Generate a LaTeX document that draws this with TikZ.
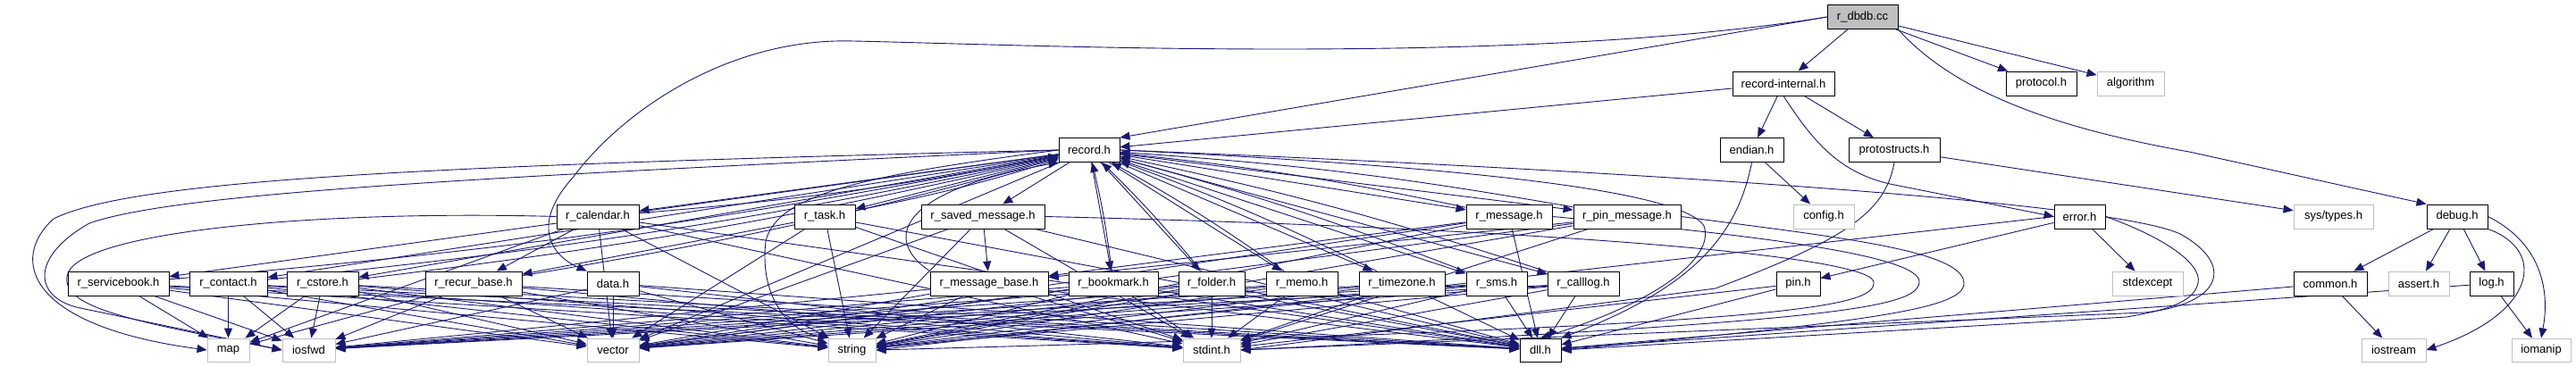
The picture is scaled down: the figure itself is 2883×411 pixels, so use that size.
\documentclass[tikz,border=0pt]{standalone}
\usepackage{fontspec}
\setmainfont{Liberation Sans}
\usepackage{xcolor}
\usepackage{tikz}
\usetikzlibrary{arrows.meta}
\definecolor{edgeblue}{HTML}{191970}
\definecolor{boxgrey}{HTML}{BFBFBF}
\pgfdeclarelayer{edges}
\pgfsetlayers{edges,main}
\tikzset{
  hdr/.style={draw=black, fill=white, line width=0.9pt, inner sep=0pt, minimum height=27pt, font=\fontsize{13}{15}\selectfont},
  syshdr/.style={hdr, draw=boxgrey},
  roothdr/.style={hdr, fill=boxgrey},
  dep/.style={draw=edgeblue, line width=0.9pt, -{Triangle[length=11pt, width=9pt]}},
}

\begin{document}
\begin{tikzpicture}[x=1pt, y=-1pt]
    \useasboundingbox (0,0) rectangle (2883,411);

    % top rows
    \node[roothdr, minimum width=79pt] (dbdb) at (2084.5,19) {r\_dbdb.cc};
    \node[hdr, minimum width=114pt] (recint) at (1996,93.5) {record-internal.h};
    \node[hdr, minimum width=79pt] (protocol) at (2284.5,93.5) {protocol.h};
    \node[syshdr, minimum width=75pt] (algorithm) at (2384.5,93.5) {algorithm};
    \node[hdr, minimum width=68pt] (record) at (1219,168) {record.h};
    \node[hdr, minimum width=71pt] (endian) at (1960.5,168) {endian.h};
    \node[hdr, minimum width=102pt] (protostructs) at (2120,168) {protostructs.h};

    % third row
    \node[hdr, minimum width=92pt] (calendar) at (669,242.5) {r\_calendar.h};
    \node[hdr, minimum width=68pt] (task) at (923,242.5) {r\_task.h};
    \node[hdr, minimum width=138pt] (savedmsg) at (1100,242.5) {r\_saved\_message.h};
    \node[hdr, minimum width=96pt] (message) at (1689,242.5) {r\_message.h};
    \node[hdr, minimum width=120pt] (pinmsg) at (1821,242.5) {r\_pin\_message.h};
    \node[syshdr, minimum width=68pt] (config) at (2041,242.5) {config.h};
    \node[hdr, minimum width=57pt] (error) at (2327.5,242.5) {error.h};
    \node[syshdr, minimum width=89pt] (systypes) at (2611.5,242.5) {sys/types.h};
    \node[hdr, minimum width=68pt] (debug) at (2750,242.5) {debug.h};

    % fourth row
    \node[hdr, minimum width=113pt] (servicebook) at (132.5,317.5) {r\_servicebook.h};
    \node[hdr, minimum width=87pt] (contact) at (255.5,317.5) {r\_contact.h};
    \node[hdr, minimum width=80pt] (cstore) at (361,317.5) {r\_cstore.h};
    \node[hdr, minimum width=108pt] (recurbase) at (530,317.5) {r\_recur\_base.h};
    \node[hdr, minimum width=58pt] (data) at (686,317.5) {data.h};
    \node[hdr, minimum width=132pt] (msgbase) at (1107,317.5) {r\_message\_base.h};
    \node[hdr, minimum width=100pt] (bookmark) at (1246,317.5) {r\_bookmark.h};
    \node[hdr, minimum width=74pt] (folder) at (1356,317.5) {r\_folder.h};
    \node[hdr, minimum width=80pt] (memo) at (1457,317.5) {r\_memo.h};
    \node[hdr, minimum width=96pt] (timezone) at (1569,317.5) {r\_timezone.h};
    \node[hdr, minimum width=68pt] (sms) at (1675,317.5) {r\_sms.h};
    \node[hdr, minimum width=80pt] (calllog) at (1772,317.5) {r\_calllog.h};
    \node[hdr, minimum width=49pt] (pin) at (2012.5,317.5) {pin.h};
    \node[syshdr, minimum width=79pt] (stdexcept) at (2403.5,317.5) {stdexcept};
    \node[hdr, minimum width=82pt] (common) at (2608,317.5) {common.h};
    \node[syshdr, minimum width=68pt] (assert) at (2707,317.5) {assert.h};
    \node[hdr, minimum width=49pt] (log) at (2788.5,317.5) {log.h};

    % bottom row
    \node[syshdr, minimum width=47pt, minimum height=26pt] (map) at (255.5,392) {map};
    \node[syshdr, minimum width=59pt, minimum height=26pt] (iosfwd) at (345.5,392) {iosfwd};
    \node[syshdr, minimum width=58pt, minimum height=26pt] (vector) at (686,392) {vector};
    \node[syshdr, minimum width=53pt, minimum height=26pt] (string) at (953.5,392) {string};
    \node[syshdr, minimum width=64pt, minimum height=26pt] (stdint) at (1356,392) {stdint.h};
    \node[hdr, minimum width=46pt, minimum height=26pt] (dll) at (1724,392) {dll.h};
    \node[syshdr, minimum width=72pt, minimum height=26pt] (iostream) at (2679,392) {iostream};
    \node[syshdr, minimum width=66pt, minimum height=26pt] (iomanip) at (2844,392) {iomanip};

    \begin{pgfonlayer}{edges}
    % r_dbdb.cc
    \draw[dep] (dbdb) -- (recint);
    \draw[dep] (dbdb) -- (protocol);
    \draw[dep] (dbdb) -- (algorithm);
    \draw[dep] (dbdb.south east) .. controls (2180,95) and (2280,140) .. (2450,170) -- (debug.north west);
    \draw[dep] (dbdb.west) -- (record.north east);
    \draw[dep] (dbdb.west) .. controls (1700,75) and (1150,50) .. (955,46) .. controls (820,42) and (700,120) .. (641,199) .. controls (595,250) and (615,285) .. (data.north west);

    % record-internal.h and below
    \draw[dep] (recint) -- (record);
    \draw[dep] (recint) -- (endian);
    \draw[dep] (recint) -- (protostructs);
    \draw[dep] (recint.south) .. controls (2030,160) and (2060,195) .. (2120,207) -- (error.west);
    \draw[dep] (endian) -- (config);
    \draw[dep] (endian.south) .. controls (1945,260) and (1900,320) .. (dll.north east);
    \draw[dep] (protostructs) -- (systypes);
    \draw[dep] (protostructs.south) .. controls (2110,240) and (2060,270) .. (1920,323) -- (stdint.east);
    \draw[dep] (error) -- (pin);
    \draw[dep] (error) -- (stdexcept);
    \draw[dep] (error.west) -- (string.east);
    \draw[dep] (error.east) .. controls (2420,265) and (2465,295) .. (2460,317) .. controls (2455,340) and (2420,348) .. (2380,355) -- (dll.east);
    \draw[dep] (pin) -- (dll);
    \draw[dep] (pin) -- (stdint);

    % debug.h
    \draw[dep] (debug) -- (common);
    \draw[dep] (debug) -- (assert);
    \draw[dep] (debug) -- (log);
    \draw[dep] (debug.south east) .. controls (2850,280) and (2840,350) .. (iostream.east);
    \draw[dep] (debug.east) .. controls (2840,270) and (2855,320) .. (iomanip.north);
    \draw[dep] (common) -- (iostream);
    \draw[dep] (common) -- (dll);
    \draw[dep] (log) -- (iomanip);
    \draw[dep] (log) -- (dll);

    % record.h and the record headers
    \foreach \hdrname in {servicebook, contact, cstore, calendar, task, savedmsg, message, pinmsg, bookmark, folder, memo, timezone, sms, calllog}
      \draw[dep] (record) -- (\hdrname);
    \foreach \hdrname in {servicebook, contact, cstore, calendar, task, recurbase, message, pinmsg, bookmark, folder, memo, timezone, sms, calllog}
      \draw[dep] (\hdrname) to[bend right=3] (record);
    \draw[dep] (msgbase.north west) .. controls (990,270) and (1000,215) .. (record.south west);
    \draw[dep] (calendar) -- (recurbase);
    \draw[dep] (task) -- (recurbase);
    \draw[dep] (savedmsg) -- (msgbase);
    \draw[dep] (message) -- (msgbase);
    \draw[dep] (pinmsg) -- (msgbase);

    % record.h to the library headers
    \draw[dep] (record) -- (vector);
    \draw[dep] (record.west) .. controls (980,195) and (870,215) .. (857,270) .. controls (850,330) and (880,370) .. (string.north west);
    \draw[dep] (record.west) .. controls (500,185) and (150,200) .. (60,245) .. controls (10,290) and (30,365) .. (map.west);
    \draw[dep] (record.west) .. controls (550,198) and (200,215) .. (100,250) .. controls (30,290) and (40,335) .. (90,345) -- (iosfwd.west);
    \draw[dep] (record.east) .. controls (1600,185) and (1880,210) .. (1907,253) .. controls (1920,290) and (1850,340) .. (dll.north);
    \draw[dep] (record.east) .. controls (1800,190) and (2360,225) .. (2440,262) .. controls (2500,295) and (2490,340) .. (2400,350) -- (stdint.east);
    \draw[dep] (calendar.west) .. controls (350,235) and (80,260) .. (75,310) .. controls (70,345) and (150,360) .. (iosfwd.west);

    % library headers
    \foreach \src in {servicebook, contact, cstore, recurbase, data, msgbase, bookmark, folder, memo, timezone, sms, calllog}
      \foreach \dst in {iosfwd, string, vector, stdint, dll}
        \draw[dep] (\src) -- (\dst);
    \foreach \src in {calendar, task, savedmsg}
      \foreach \dst in {string, vector, stdint, dll}
        \draw[dep] (\src) -- (\dst);
    \foreach \dst in {string, vector, dll}
      \draw[dep] (message) -- (\dst);
    \foreach \dst in {string, vector, stdint}
      \draw[dep] (pinmsg) -- (\dst);
    \foreach \src in {servicebook, contact, cstore, calendar, recurbase}
      \draw[dep] (\src) -- (map);
    \draw[dep] (pinmsg.east) .. controls (2050,265) and (2200,280) .. (2198,318) .. controls (2196,345) and (2100,360) .. (dll.east);
    \draw[dep] (message.east) .. controls (1950,262) and (2150,285) .. (2148,316) .. controls (2146,345) and (2050,360) .. (stdint.east);
    \draw[dep] (savedmsg.east) .. controls (1700,255) and (2095,285) .. (2097,316) .. controls (2099,345) and (2000,365) .. (string.east);
    \end{pgfonlayer}
  \end{tikzpicture}
\end{document}
